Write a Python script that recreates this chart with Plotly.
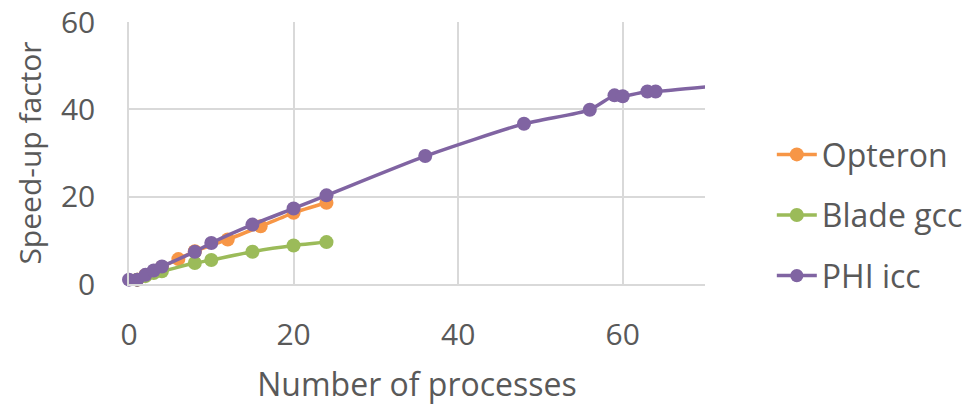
import plotly.graph_objects as go

# Speed-up measurements per platform
opteron_procs = [1, 2, 4, 6, 8, 12, 16, 20, 24]
opteron_speedup = [1.0, 2.0, 3.9, 5.7, 7.5, 10.2, 13.2, 16.3, 18.6]

blade_procs = [1, 2, 3, 4, 8, 10, 15, 20, 24]
blade_speedup = [1.0, 1.8, 2.5, 2.9, 4.8, 5.5, 7.4, 8.8, 9.6]

phi_procs = [0, 1, 2, 3, 4, 8, 10, 15, 20, 24, 36, 48, 56, 59, 60, 63, 64, 72]
phi_speedup = [1.0, 1.0, 2.1, 3.1, 4.0, 7.4, 9.4, 13.6, 17.3, 20.3, 29.3, 36.7, 39.9, 43.2, 43.0, 44.1, 44.1, 45.5]

series = [
    ("Opteron", opteron_procs, opteron_speedup, "#F79646"),
    ("Blade gcc", blade_procs, blade_speedup, "#9BBB59"),
    ("PHI icc", phi_procs, phi_speedup, "#8064A2"),
]

X_RANGE = [0, 70]
FONT = "Open Sans"
GREY = "#595959"
GRID = "#D9D9D9"

fig = go.Figure()
for name, xs, ys, color in series:
    # points past the axis end only steer the curve; no marker is drawn for them
    sizes = [14 if X_RANGE[0] <= x <= X_RANGE[1] else 0 for x in xs]
    fig.add_trace(go.Scatter(
        x=xs, y=ys, name=name, mode="lines+markers",
        line=dict(color=color, width=3.5, shape="spline", smoothing=0.6),
        marker=dict(color=color, size=sizes, opacity=1, line=dict(width=0)),
        legendgroup=name, cliponaxis=False,
    ))

fig.update_layout(
    width=967, height=407,
    margin=dict(l=129, r=262, t=22, b=123, autoexpand=False),
    paper_bgcolor="white", plot_bgcolor="white",
    font=dict(family=FONT, color=GREY, size=30),
    showlegend=True,
    legend=dict(
        x=1.116, y=0.263, xanchor="left", yanchor="middle",
        font=dict(family=FONT, size=32, color=GREY),
        tracegroupgap=16, itemwidth=40,
    ),
)
fig.update_xaxes(
    range=X_RANGE, tick0=0, dtick=20, automargin=False,
    showgrid=True, gridcolor=GRID, gridwidth=1.5,
    zeroline=False, showline=True, linecolor=GRID, linewidth=1.5,
    ticks="", ticklabelstandoff=23,
    tickfont=dict(size=30, color=GREY),
    title=dict(text="Number of processes", font=dict(size=32, color=GREY), standoff=21),
)
fig.update_yaxes(
    range=[0, 60], tick0=0, dtick=20, automargin=False,
    showgrid=True, gridcolor=GRID, gridwidth=1.5,
    zeroline=False, showline=True, linecolor=GRID, linewidth=1.5,
    ticks="", ticklabelstandoff=26,
    tickfont=dict(size=30, color=GREY),
    title=dict(text="Speed-up factor", font=dict(size=30, color=GREY), standoff=10),
)

fig.write_html("out.html")
